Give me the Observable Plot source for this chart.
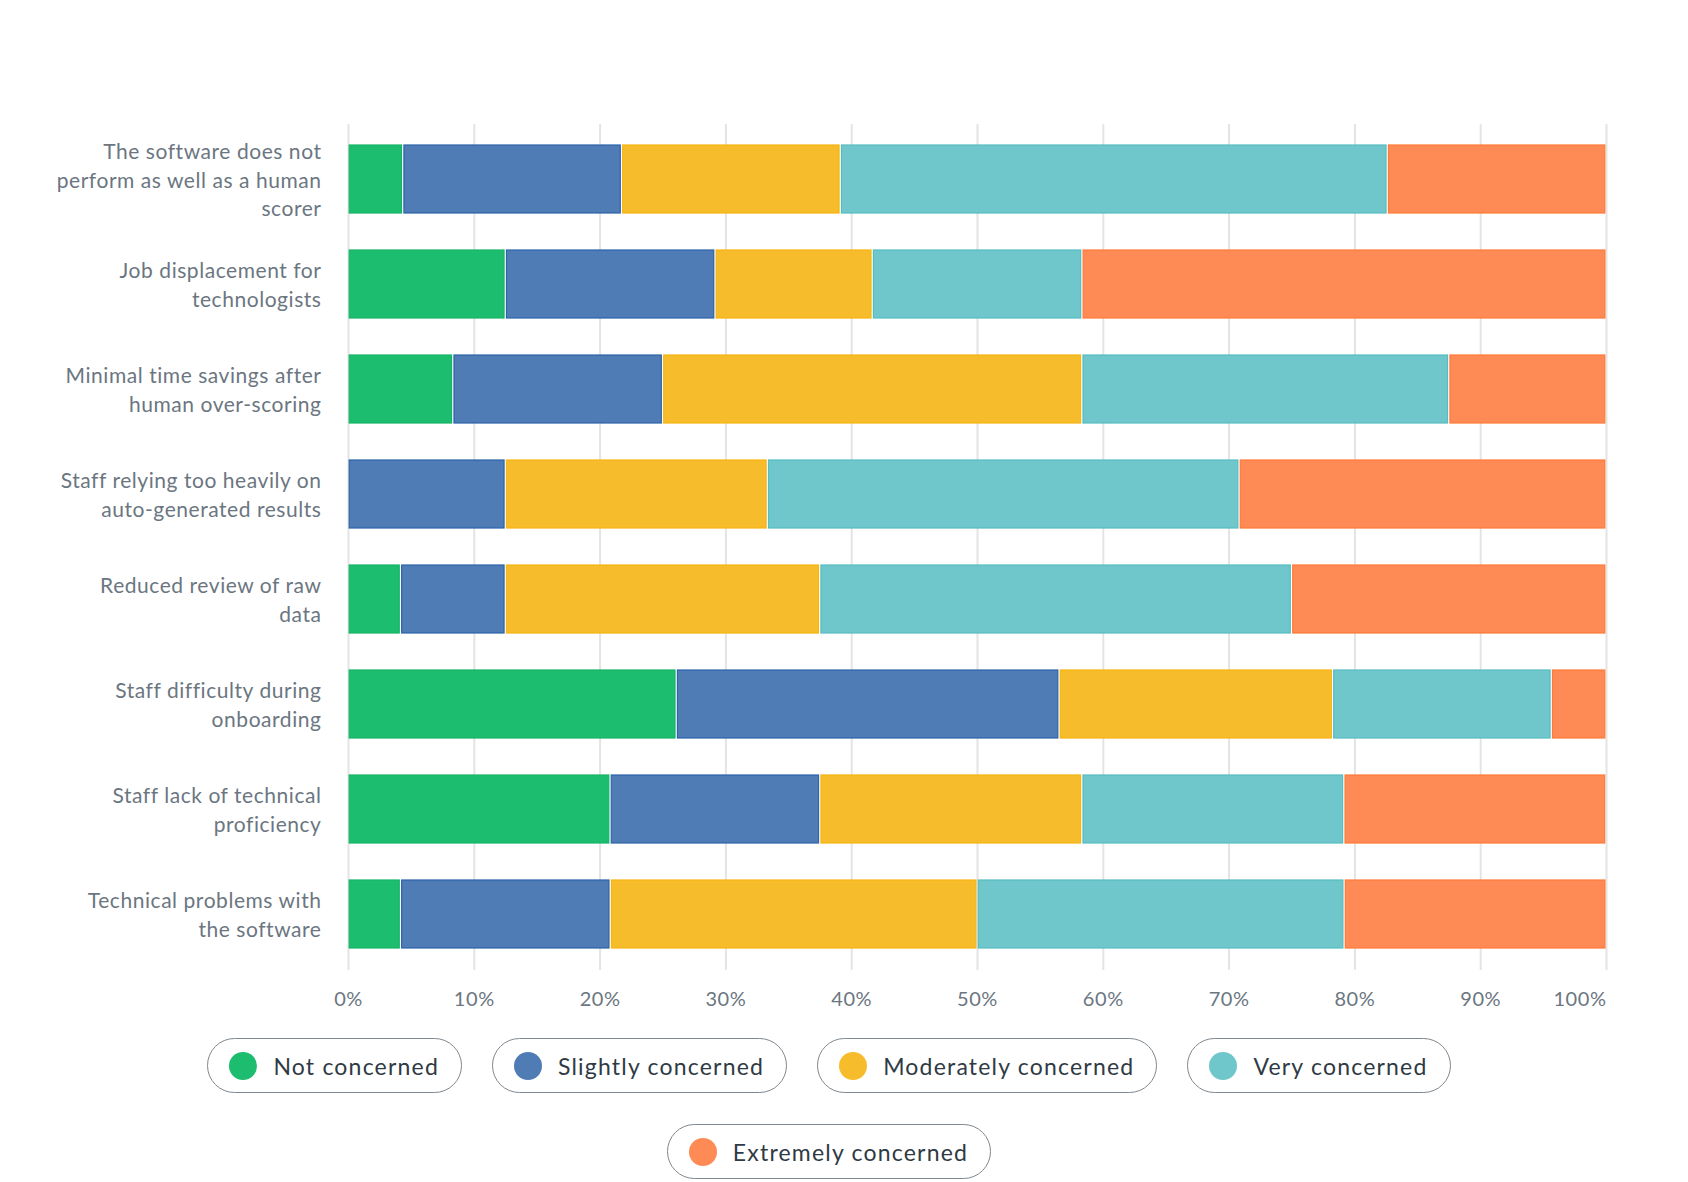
<!DOCTYPE html>
<html>
<head>
<meta charset="utf-8">
<script src="https://cdn.jsdelivr.net/npm/d3@7"></script>
<script src="https://cdn.jsdelivr.net/npm/@observablehq/plot@0.6"></script>
<style>
  body { margin: 0; background: #fff; font-family: Lato, "Open Sans", sans-serif; }
  #legend { width: 1290px; margin-left: 184px; margin-top: 13px; display: flex; flex-wrap: wrap; justify-content: center; column-gap: 30px; row-gap: 31px; }
  .pill { display: inline-flex; align-items: center; height: 55px; box-sizing: border-box; border: 1.5px solid #7f888f; border-radius: 28px; padding: 0 22px 0 21px; font-size: 23px; letter-spacing: 1.2px; color: #2f3a44; background: #fff; }
  .dot { width: 28px; height: 28px; border-radius: 50%; margin-right: 16px; flex: none; }
</style>
</head>
<body>
<div id="chart"></div>
<div id="legend"></div>
<script>
const categories = [
  "The software does not perform as well as a human scorer",
  "Job displacement for technologists",
  "Minimal time savings after human over-scoring",
  "Staff relying too heavily on auto-generated results",
  "Reduced review of raw data",
  "Staff difficulty during onboarding",
  "Staff lack of technical proficiency",
  "Technical problems with the software"
];
const categoryLabels = [
  "The software does not\nperform as well as a human\nscorer",
  "Job displacement for\ntechnologists",
  "Minimal time savings after\nhuman over-scoring",
  "Staff relying too heavily on\nauto-generated results",
  "Reduced review of raw\ndata",
  "Staff difficulty during\nonboarding",
  "Staff lack of technical\nproficiency",
  "Technical problems with\nthe software"
];
const levels = ["Not concerned", "Slightly concerned", "Moderately concerned", "Very concerned", "Extremely concerned"];
const notConcerned       = [4.35, 12.50,  8.33,  0.00,  4.17, 26.09, 20.83,  4.17];
const slightlyConcerned  = [17.39, 16.67, 16.67, 12.50,  8.33, 30.43, 16.67, 16.67];
const moderatelyConcerned= [17.39, 12.50, 33.33, 20.83, 25.00, 21.74, 20.83, 29.17];
const veryConcerned      = [43.48, 16.67, 29.17, 37.50, 37.50, 17.39, 20.83, 29.17];
const extremelyConcerned = [17.39, 41.67, 12.50, 29.17, 25.00,  4.35, 20.83, 20.83];
const xTicks = [0, 10, 20, 30, 40, 50, 60, 70, 80, 90, 100];

const fillColors = ["#1dbd6f", "#507cb6", "#f7bc2b", "#6fc7cb", "#fe8b55"];
const strokeColors = ["#16b466", "#2a63aa", "#f6b510", "#55bcc1", "#ff7a36"];

const series = [notConcerned, slightlyConcerned, moderatelyConcerned, veryConcerned, extremelyConcerned];
const rows = categories.flatMap((c, i) => levels.map((l, j) => ({category: c, level: l, value: series[j][i], li: j})));
const labelOf = new Map(categories.map((c, i) => [c, categoryLabels[i]]));

const tickColor = "#6b7681";

const chart = Plot.plot({
  width: 1688,
  height: 1025,
  marginTop: 124,
  marginBottom: 55,
  marginLeft: 348,
  marginRight: 82,
  style: {fontFamily: "Lato, 'Open Sans', sans-serif", background: "#fff", letterSpacing: "0.55px"},
  x: {domain: [0, 100], axis: null},
  y: {domain: categories, axis: null, paddingInner: 0.35, paddingOuter: 0.175},
  color: {domain: levels, range: fillColors},
  marks: [
    Plot.gridX(xTicks, {stroke: "#e4e4e4", strokeOpacity: 1, strokeWidth: 2}),
    Plot.barX(rows, Plot.stackX({
      y: "category",
      x: "value",
      fill: "level",
      stroke: {value: d => strokeColors[d.li], scale: null},
      strokeWidth: 1.2,
      insetLeft: 1.2,
      insetRight: 1.2
    })),
    Plot.axisX(xTicks.slice(0, 10), {anchor: "bottom", tickSize: 0, tickPadding: 21, tickFormat: d => d + "%", fontSize: 20, fill: tickColor, label: null}),
    Plot.axisX(xTicks.slice(10), {anchor: "bottom", tickSize: 0, tickPadding: 21, tickFormat: d => d + "%", fontSize: 20, fill: tickColor, textAnchor: "end", dx: 0, label: null}),
    Plot.text(categories, {
      y: d => d,
      text: d => labelOf.get(d),
      frameAnchor: "left",
      textAnchor: "end",
      lineAnchor: "middle",
      dx: -27,
      dy: -1,
      lineHeight: 1.35,
      fontSize: 21,
      fill: tickColor
    })
  ]
});
document.getElementById("chart").appendChild(chart);

const legend = document.getElementById("legend");
levels.forEach((l, i) => {
  const pill = document.createElement("div");
  pill.className = "pill";
  const dot = document.createElement("span");
  dot.className = "dot";
  dot.style.background = fillColors[i];
  const txt = document.createElement("span");
  txt.textContent = l;
  pill.appendChild(dot);
  pill.appendChild(txt);
  legend.appendChild(pill);
});
</script>
</body>
</html>
